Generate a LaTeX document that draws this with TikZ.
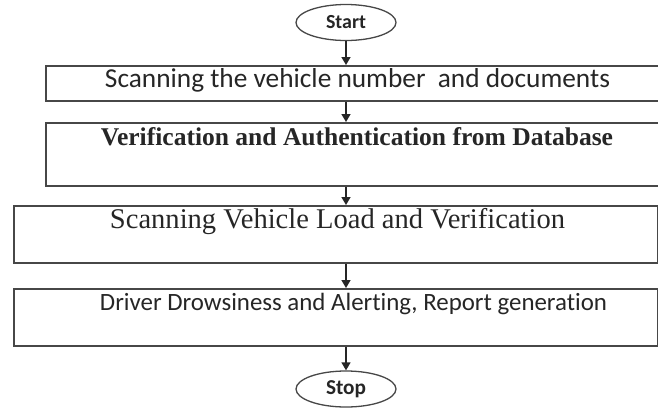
\documentclass[tikz,border=0pt]{standalone}
\usepackage{fontspec}
\setmainfont{Liberation Serif}
\newfontfamily\calib[Ligatures=NoCommon]{Carlito}
\usetikzlibrary{shapes.geometric,arrows.meta}
\begin{document}
\begin{tikzpicture}[x=1pt,y=-1pt,
  stepbox/.style={draw=black!72, line width=1.8pt, rectangle, inner sep=0pt, anchor=north west},
  term/.style={draw=black!72, line width=1.3pt, ellipse, minimum width=100pt, minimum height=36pt, inner sep=0pt, text=black!85},
  conn/.style={draw=black!85, line width=1.5pt, -{Triangle[length=8pt,width=9pt]}},
  lbl/.style={anchor=base, inner sep=0pt, text=black!85}]
\useasboundingbox (0,0) rectangle (658,410);
\clip (0,0) rectangle (658,410);
% terminals
\node[term] (start) at (346,22.5) {\resizebox{40pt}{!}{\calib\bfseries Start}};
\node[term] (stop) at (346,389) {\resizebox{40pt}{!}{\calib\bfseries Stop}};
% process boxes
\node[stepbox, minimum width=630pt, minimum height=35pt] (b1) at (45,65) {};
\node[stepbox, minimum width=630pt, minimum height=63pt] (b2) at (45,122) {};
\node[stepbox, minimum width=644pt, minimum height=57pt] (b3) at (13,205) {};
\node[stepbox, minimum width=644pt, minimum height=57pt] (b4) at (13,288) {};
% labels
\node[lbl] (t1) at (357.5,87) {\resizebox{505pt}{!}{\calib Scanning the vehicle number\ \ and documents}};
\node[lbl] (t2) at (357,145) {\resizebox{512pt}{!}{\bfseries Verification and Authentication from Database}};
\node[lbl] (t3) at (337.5,228) {\resizebox{455pt}{!}{Scanning Vehicle Load and Verification}};
\node[lbl] (t4) at (353.5,310) {\resizebox{507pt}{!}{\calib Driver Drowsiness and Alerting, Report generation}};
% connectors
\draw[conn] (start.south) -- (start.south |- b1.north);
\draw[conn] (start.south |- b1.south) -- (start.south |- b2.north);
\draw[conn] (start.south |- b2.south) -- (start.south |- b3.north);
\draw[conn] (start.south |- b3.south) -- (start.south |- b4.north);
\draw[conn] (start.south |- b4.south) -- (stop.north);
\end{tikzpicture}
\end{document}
